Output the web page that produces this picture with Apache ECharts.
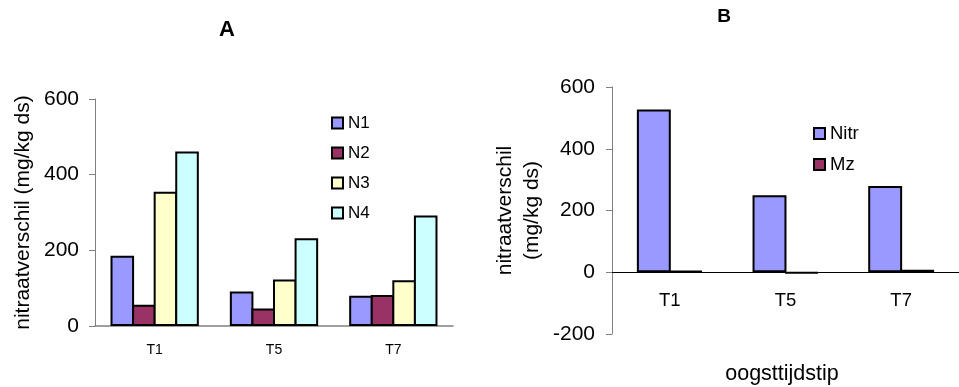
<!DOCTYPE html>
<html>
<head>
<meta charset="utf-8">
<script src="https://cdn.jsdelivr.net/npm/echarts@6/dist/echarts.min.js"></script>
<style>
html,body{margin:0;padding:0;background:#fff;}
#chart{width:959px;height:387px;}
</style>
</head>
<body>
<div id="chart"></div>
<script>
// Harvest moments shared by both panels
const categories = ['T1', 'T5', 'T7'];

// Panel A: nitrate difference per nitrogen level
const n1 = [186, 91, 80];
const n2 = [56, 46, 82];
const n3 = [355, 123, 121];
const n4 = [461, 232, 292];

// Panel B: nitrate difference, Nitr vs Mz
const nitr = [527, 249, 279];
const mz = [5, -3, 8];

const yTicksA = [0, 200, 400, 600];
const yTicksB = [-200, 0, 200, 400, 600];

const FONT = 'Liberation Sans, Arial, sans-serif';
const border = { borderColor: '#000', borderWidth: 2 };

// Neighbouring bars overlap by their border width so they share one outline
function barSeries(name, data, color, axisIndex, gap, barGap) {
  return {
    name: name,
    type: 'bar',
    data: data,
    xAxisIndex: axisIndex,
    yAxisIndex: axisIndex,
    barGap: barGap,
    barCategoryGap: gap,
    itemStyle: Object.assign({ color: color }, border),
    emphasis: { disabled: true }
  };
}

function label(text, x, y, size, weight) {
  return {
    type: 'text', x: x, y: y, silent: true,
    style: { text: text, fontSize: size, fontWeight: weight || 'normal', fill: '#000',
             fontFamily: FONT, align: 'center', verticalAlign: 'middle' }
  };
}

const legendText = { fontSize: 17, color: '#000', fontFamily: FONT, lineHeight: 18 };

// Panel B value range, used to lift its category axis onto the zero line
const gridB = { left: 612, top: 87, width: 360, height: 247 };
const zeroOffsetB = -gridB.height * (0 - yTicksB[0]) / (yTicksB[yTicksB.length - 1] - yTicksB[0]);

const chart = echarts.init(document.getElementById('chart'), null, { renderer: 'canvas' });

chart.setOption({
  animation: false,
  textStyle: { fontFamily: FONT },
  legend: [
    { data: ['N1', 'N2', 'N3', 'N4'], orient: 'vertical', left: 331, top: 114, padding: 0,
      icon: 'rect', itemWidth: 11, itemHeight: 11, itemGap: 12, textStyle: legendText },
    { data: ['Nitr', 'Mz'], orient: 'vertical', left: 813, top: 124, padding: 0,
      icon: 'rect', itemWidth: 11, itemHeight: 11, itemGap: 12,
      textStyle: Object.assign({}, legendText, { fontSize: 18.5 }) }
  ],
  grid: [
    { left: 95, top: 99, width: 358, height: 227, containLabel: false },
    Object.assign({ containLabel: false }, gridB)
  ],
  xAxis: [
    { type: 'category', gridIndex: 0, data: categories,
      axisLine: { lineStyle: { color: '#808080', width: 1.5 } },
      axisTick: { show: false },
      axisLabel: { color: '#000', fontSize: 14, margin: 17, fontFamily: FONT } },
    { type: 'category', gridIndex: 1, data: categories, position: 'bottom', offset: zeroOffsetB,
      axisLine: { onZero: false, lineStyle: { color: '#000', width: 1 } },
      axisTick: { show: false },
      axisLabel: { color: '#000', fontSize: 18.5, margin: 19, fontFamily: FONT } }
  ],
  yAxis: [
    { type: 'value', gridIndex: 0, min: yTicksA[0], max: yTicksA[yTicksA.length - 1], interval: 200,
      name: 'nitraatverschil (mg/kg ds)', nameLocation: 'middle', nameGap: 61, nameRotate: 90,
      nameTextStyle: { fontSize: 21, color: '#000', fontFamily: FONT },
      axisLine: { show: true, lineStyle: { color: '#808080', width: 1 } },
      axisTick: { show: true, inside: false, length: 6, lineStyle: { color: '#808080' } },
      splitLine: { show: false },
      axisLabel: { color: '#000', fontSize: 21, margin: 16, fontFamily: FONT } },
    { type: 'value', gridIndex: 1, min: yTicksB[0], max: yTicksB[yTicksB.length - 1], interval: 200,
      name: 'nitraatverschil\n(mg/kg ds)', nameLocation: 'middle', nameGap: 66, nameRotate: 90,
      nameTextStyle: { fontSize: 21, color: '#000', fontFamily: FONT, lineHeight: 27 },
      axisLine: { show: true, onZero: false, lineStyle: { color: '#808080', width: 1 } },
      axisTick: { show: true, inside: false, length: 6, lineStyle: { color: '#808080' } },
      splitLine: { show: false },
      axisLabel: { color: '#000', fontSize: 21, margin: 17, fontFamily: FONT } }
  ],
  graphic: [
    label('A', 227, 30, 22, 'bold'),
    label('B', 724, 17, 19, 'bold'),
    label('oogsttijdstip', 782, 374, 21.5)
  ],
  series: [
    barSeries('N1', n1, '#9999FF', 0, '26%', '-8.5%'),
    barSeries('N2', n2, '#993366', 0, '26%', '-8.5%'),
    barSeries('N3', n3, '#FFFFCC', 0, '26%', '-8.5%'),
    barSeries('N4', n4, '#CCFFFF', 0, '26%', '-8.5%'),
    barSeries('Nitr', nitr, '#9999FF', 1, '43%', '-5.7%'),
    barSeries('Mz', mz, '#993366', 1, '43%', '-5.7%')
  ]
});
</script>
</body>
</html>
